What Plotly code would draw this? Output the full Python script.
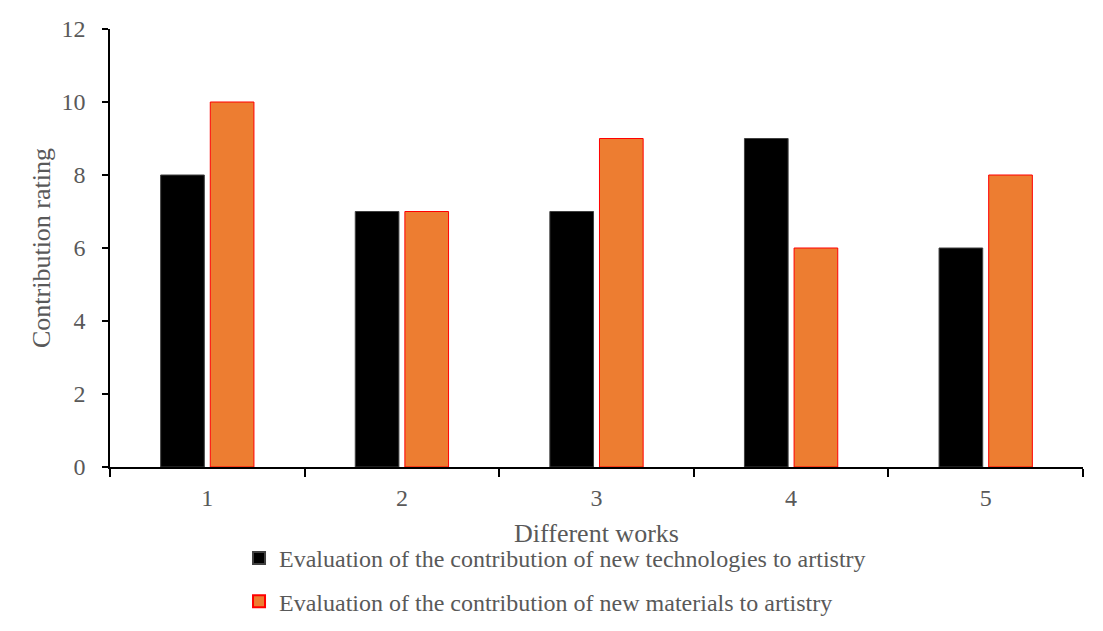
import plotly.graph_objects as go

works = ["1", "2", "3", "4", "5"]
tech_scores = [8, 7, 7, 9, 6]
material_scores = [10, 7, 9, 6, 8]
series_names = [
    "Evaluation of the contribution of new technologies to artistry",
    "Evaluation of the contribution of new materials to artistry",
]
y_ticks = [0, 2, 4, 6, 8, 10, 12]

FONT = "Liberation Serif, Times New Roman, serif"

fig = go.Figure()
fig.add_trace(go.Bar(
    x=works, y=tech_scores, name=series_names[0], legendgroup="a",
    marker=dict(color="#000000", line=dict(color="#404040", width=1)),
))
fig.add_trace(go.Bar(
    x=works, y=material_scores, name=series_names[1], legendgroup="b",
    marker=dict(color="#ED7D31", line=dict(color="#FF0000", width=1)),
))

fig.update_layout(
    width=1095, height=623,
    margin=dict(l=102, r=20, t=21, b=164, autoexpand=False),
    paper_bgcolor="white", plot_bgcolor="white",
    barmode="group", bargap=0.49, bargroupgap=0.12,
    font=dict(family=FONT, color="#595959", size=24),
    showlegend=True,
    legend=dict(
        orientation="v", x=0.1326, xanchor="left", y=-0.1575, yanchor="top",
        font=dict(family=FONT, size=24, color="#595959"),
        tracegroupgap=9, itemsizing="constant", bgcolor="rgba(0,0,0,0)",
    ),
    xaxis=dict(
        type="category", showline=True, linecolor="#000000", linewidth=1.5,
        ticks="outside", tickson="boundaries", ticklen=8, tickcolor="#000000",
        tickwidth=1.5, showgrid=False, zeroline=False, ticklabelstandoff=8,
        automargin=False,
        tickfont=dict(family=FONT, size=24, color="#595959"),
        title=dict(text="Different works", standoff=14,
                   font=dict(family=FONT, size=26, color="#595959")),
    ),
    yaxis=dict(
        range=[0, 12], tickvals=y_ticks, showline=True, linecolor="#000000",
        linewidth=1.5, ticks="outside", ticklen=6, tickcolor="#000000",
        tickwidth=1.5, showgrid=False, zeroline=False, ticklabelstandoff=12,
        automargin=False,
        tickfont=dict(family=FONT, size=24, color="#595959"),
        title=dict(text="Contribution rating", standoff=3,
                   font=dict(family=FONT, size=26, color="#595959")),
    ),
    shapes=[
        dict(type="line", xref="paper", yref="paper",
             x0=-103/973, x1=1.03, y0=1 + 24/438, y1=1 + 24/438,
             line=dict(color="#D9D9D9", width=2)),
        dict(type="line", xref="paper", yref="paper",
             x0=-103/973, x1=-103/973, y0=1 + 24/438, y1=-170/438,
             line=dict(color="#D9D9D9", width=2)),
    ],
)

fig.write_html("out.html")
